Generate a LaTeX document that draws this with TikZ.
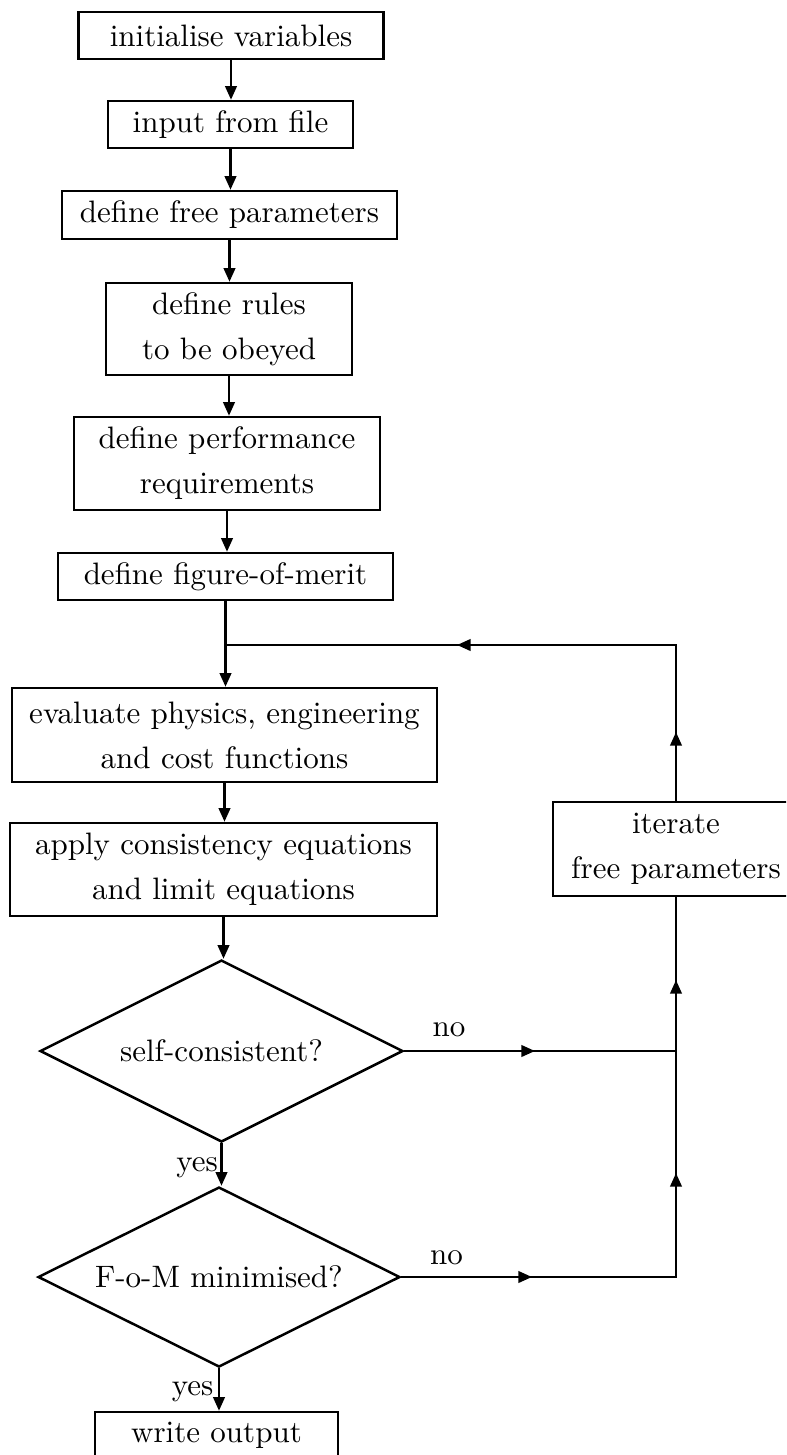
\documentclass[tikz,border=0pt]{standalone}
\usetikzlibrary{shapes.geometric,arrows.meta}
\begin{document}
\def\u{0.32258pt}
\begin{tikzpicture}[x=\u, y=-\u, line width=0.8pt,
  txt/.style={font=\fontsize{10}{14.5}\selectfont},
  box/.style={txt, draw, rectangle, inner sep=0pt, align=center},
  dia/.style={txt, draw, diamond, aspect=2, inner sep=0pt, align=center},
  lbl/.style={txt, inner sep=0pt},
  arr/.style={-{Triangle[length=4.4pt,width=3.7pt]}}]
\useasboundingbox (0,0) rectangle (786,1455);
\clip (0,0) rectangle (786,1455);

\node[box, minimum width=305*\u, minimum height=47*\u] (b1) at (231,35.5) {initialise variables};
\node[box, minimum width=245*\u, minimum height=47*\u] (b2) at (230.5,124.5) {input from file};
\node[box, minimum width=335*\u, minimum height=48*\u] (b3) at (229.5,215) {define free parameters};
\node[box, minimum width=246*\u, minimum height=92*\u] (b4) at (229,329) {define rules\\to be obeyed};
\node[box, minimum width=306*\u, minimum height=93*\u] (b5) at (227,463.5) {define performance\\requirements};
\node[box, minimum width=335*\u, minimum height=47*\u] (b6) at (225.5,576.5) {define figure-of-merit};
\node[box, minimum width=425*\u, minimum height=94*\u] (b7) at (224.5,735) {evaluate physics, engineering\\and cost functions};
\node[box, minimum width=427*\u, minimum height=93*\u] (b8) at (223.5,869.5) {apply consistency equations\\and limit equations};
\node[dia, minimum width=363*\u, minimum height=182*\u] (d1) at (221.5,1051) {self-consistent?};
\node[dia, minimum width=362*\u, minimum height=180*\u] (d2) at (219,1277) {F-o-M minimised?};
\node[box, minimum width=243*\u, minimum height=47*\u] (out) at (216.5,1435.5) {write output};
\node[box, minimum width=246*\u, minimum height=94*\u] (it) at (676,849) {iterate\\free parameters};

\node[lbl] (y1) at (197,1168) {yes};
\node[lbl] (y2) at (192.5,1392) {yes};
\node[lbl] (n1) at (449,1030) {no};
\node[lbl] (n2) at (446.5,1257.5) {no};

\draw[arr] (b1.south) -- (b1.south |- b2.north);
\draw[arr] (b2.south) -- (b2.south |- b3.north);
\draw[arr] (b3.south) -- (b3.south |- b4.north);
\draw[arr] (b4.south) -- (b4.south |- b5.north);
\draw[arr] (b5.south) -- (b5.south |- b6.north);
\draw[arr] (b6.south) -- (b6.south |- b7.north);
\draw[arr] (b7.south) -- (b7.south |- b8.north);
\draw[arr] (b8.south) -- (b8.south |- d1.north);
\draw[arr] (d1.south) -- (d1.south |- d2.north);
\draw[arr] (d2.south) -- (d2.south |- out.north);

\coordinate (j) at (225.5,645);
\coordinate (c1) at (676,645);
\coordinate (m1) at (676,732);
\coordinate (m2) at (457,645);
\draw (it.north) -- (c1) -- (j);
\draw[arr] (it.north) -- (m1);
\draw[arr] (c1) -- (m2);

\coordinate (c2) at (676,1051);
\coordinate (c3) at (676,1277);
\coordinate (m3) at (535,1051);
\coordinate (m4) at (532,1277);
\coordinate (m5) at (676,1173);
\coordinate (m6) at (676,980);
\draw (d1.east) -- (c2);
\draw[arr] (d1.east) -- (m3);
\draw (d2.east) -- (c3) -- (it.south);
\draw[arr] (d2.east) -- (m4);
\draw[arr] (c3) -- (m5);
\draw[arr] (c3) -- (m6);
\end{tikzpicture}
\end{document}
